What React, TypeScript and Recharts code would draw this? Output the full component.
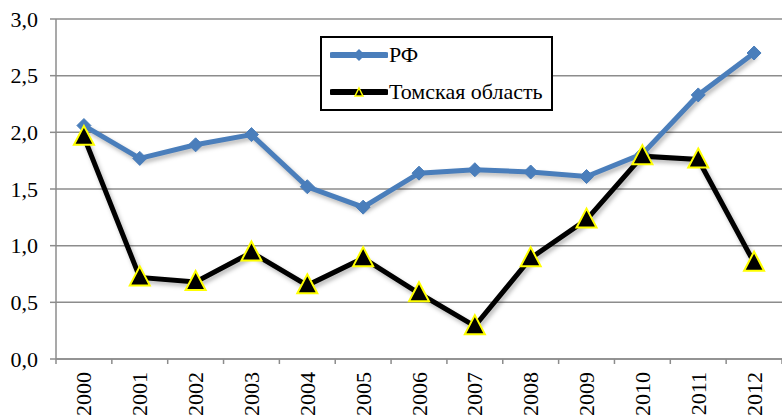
import { LineChart, Line, XAxis, YAxis, CartesianGrid, Legend } from 'recharts';

const years = ['2000', '2001', '2002', '2003', '2004', '2005', '2006', '2007', '2008', '2009', '2010', '2011', '2012'];
const rf = [2.06, 1.77, 1.89, 1.98, 1.52, 1.34, 1.64, 1.67, 1.65, 1.61, 1.81, 2.33, 2.7];
const tomsk = [1.96, 0.72, 0.68, 0.94, 0.65, 0.89, 0.58, 0.29, 0.89, 1.23, 1.79, 1.76, 0.85];
const yTicks = [0, 0.5, 1, 1.5, 2, 2.5, 3];

const data = years.map((year, i) => ({ year, rf: rf[i], tomsk: tomsk[i] }));

const FONT = 'Liberation Serif';
const BLUE = '#4a7ebb';
const GRID = '#8c8c8c';

function Diamond({ cx, cy }: any) {
  if (cx == null || cy == null) return null;
  const r = 7;
  return <path d={`M${cx},${cy - r}L${cx + r},${cy}L${cx},${cy + r}L${cx - r},${cy}Z`} fill={BLUE} stroke={BLUE} strokeWidth={1} />;
}

function Triangle({ cx, cy }: any) {
  if (cx == null || cy == null) return null;
  return (
    <path
      d={`M${cx},${cy - 11}L${cx + 10},${cy + 8}L${cx - 10},${cy + 8}Z`}
      fill="#000"
      stroke="#ffff00"
      strokeWidth={2}
    />
  );
}

function YearTick({ x, y, payload, index }: any) {
  const off = payload.offset || 0;
  return (
    <g>
      {index === 0 && <line x1={x - off} x2={x - off} y1={y} y2={y + 5} stroke={GRID} strokeWidth={1.5} />}
      <line x1={x + off} x2={x + off} y1={y} y2={y + 5} stroke={GRID} strokeWidth={1.5} />
      <text
        x={x}
        y={y + 13}
        transform={`rotate(-90 ${x} ${y + 13})`}
        textAnchor="end"
        dominantBaseline="central"
        fontFamily={FONT}
        fontSize={22}
        fill="#000"
      >
        {payload.value}
      </text>
    </g>
  );
}

function ValueTick({ x, y, payload }: any) {
  return (
    <text x={x} y={y} textAnchor="end" dominantBaseline="central" fontFamily={FONT} fontSize={22} fill="#000">
      {Number(payload.value).toFixed(1).replace('.', ',')}
    </text>
  );
}

function LegendBox() {
  return (
    <div
      style={{
        width: 233,
        height: 75,
        border: '2px solid #000',
        boxSizing: 'border-box',
        background: '#fff',
        fontFamily: FONT,
        fontSize: 22,
        color: '#000',
        lineHeight: '20px',
      }}
    >
      <div style={{ display: 'flex', alignItems: 'center', height: 20, marginTop: 7, marginLeft: 8 }}>
        <svg width={58} height={20}>
          <line x1={2} x2={56} y1={10} y2={10} stroke={BLUE} strokeWidth={6} strokeLinecap="round" />
          <path d="M29,4L35,10L29,16L23,10Z" fill={BLUE} />
        </svg>
        <span style={{ marginLeft: 1 }}>РФ</span>
      </div>
      <div style={{ display: 'flex', alignItems: 'center', height: 20, marginTop: 17, marginLeft: 8 }}>
        <svg width={58} height={20}>
          <line x1={2} x2={56} y1={10} y2={10} stroke="#000" strokeWidth={6} strokeLinecap="round" />
          <path d="M29,6L33,14L25,14Z" fill="#000" stroke="#ffff00" strokeWidth={1.5} />
        </svg>
        <span style={{ marginLeft: 1 }}>Томская область</span>
      </div>
    </div>
  );
}

export default function App() {
  return (
    <div style={{ position: 'fixed', left: 0, top: 0, width: 782, height: 415, background: '#fff', fontFamily: FONT }}>
      <style>{`
        body { margin: 0; }
        .recharts-line { filter: drop-shadow(2px 3px 2px rgba(0,0,0,0.28)); }
      `}</style>
      <LineChart width={782} height={415} data={data} margin={{ top: 19, right: 0, left: 0, bottom: 0 }}>
        <CartesianGrid vertical={false} stroke={GRID} strokeWidth={1.5} />
        <XAxis
          dataKey="year"
          scale="band"
          height={56}
          interval={0}
          tickLine={false}
          tickSize={0}
          tickMargin={0}
          axisLine={{ stroke: GRID, strokeWidth: 1.5 }}
          tick={<YearTick />}
        />
        <YAxis
          width={56}
          domain={[0, 3]}
          ticks={yTicks}
          interval={0}
          tickSize={6}
          tickMargin={12}
          tickLine={{ stroke: GRID, strokeWidth: 1.5 }}
          axisLine={{ stroke: GRID, strokeWidth: 1.5 }}
          tick={<ValueTick />}
        />
        <Legend
          layout="horizontal"
          verticalAlign="middle"
          align="center"
          wrapperStyle={{ left: 320, top: 36, width: 233, height: 75 }}
          content={() => <LegendBox />}
        />
        <Line
          dataKey="rf"
          name="РФ"
          stroke={BLUE}
          strokeWidth={5}
          dot={<Diamond />}
          activeDot={false}
          isAnimationActive={false}
        />
        <Line
          dataKey="tomsk"
          name="Томская область"
          stroke="#000"
          strokeWidth={5}
          dot={<Triangle />}
          activeDot={false}
          isAnimationActive={false}
        />
      </LineChart>
    </div>
  );
}
